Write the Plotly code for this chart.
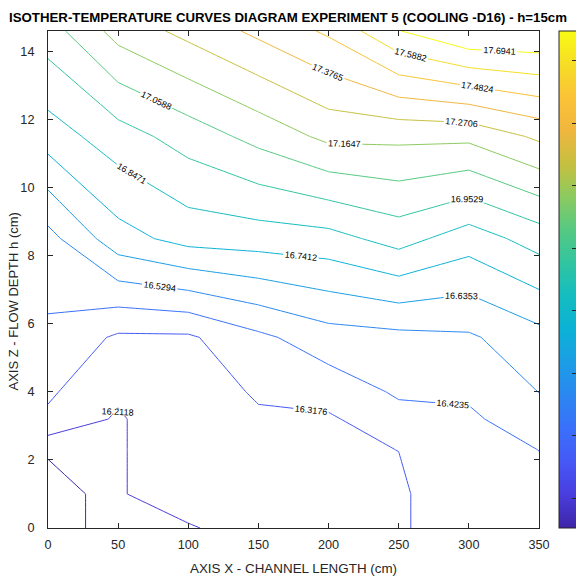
import plotly.graph_objects as go

x_cm = [0, 50, 100, 150, 200, 250, 300, 350]
y_cm = [0, 1, 2.3, 3.2, 4.0, 5.6, 8.5, 11.5, 14.6]

# Temperature values (deg C) at each (y row, x column), estimated from the isotherms
t_y0    = [16.000, 16.1976, 16.196, 16.290, 16.300, 16.300, 16.4023, 16.400]
t_y1    = [16.000, 16.1976, 16.307, 16.295, 16.300, 16.300, 16.4023, 16.410]
t_y2_3  = [16.135, 16.1976, 16.307, 16.298, 16.301, 16.3185, 16.404, 16.424]
t_y3_2  = [16.299, 16.1976, 16.307, 16.300, 16.3024, 16.390, 16.407, 16.480]
t_y4    = [16.333, 16.232, 16.249, 16.3327, 16.3634, 16.437, 16.440, 16.531]
t_y5_6  = [16.402, 16.301, 16.302, 16.4005, 16.4834, 16.500, 16.515, 16.597]
t_y8_5  = [16.492, 16.700, 16.780, 16.7926, 16.8089, 16.889, 16.791, 16.894]
t_y11_5 = [16.793, 16.905, 16.9995, 17.093, 17.1905, 17.190, 17.190, 17.290]
t_y14_6 = [17.010, 17.205, 17.302, 17.401, 17.500, 17.690, 17.800, 17.800]

z = [t_y0, t_y1, t_y2_3, t_y3_2, t_y4, t_y5_6, t_y8_5, t_y11_5, t_y14_6]

# Contour levels: 16 levels between 16.0 and 17.8
level_start = 16.0 + 1.8 / 17
level_end = 16.0 + 16 * 1.8 / 17
level_step = 1.8 / 17

x_ticks = [0, 50, 100, 150, 200, 250, 300, 350]
y_ticks = [0, 2, 4, 6, 8, 10, 12, 14]
cbar_ticks = [16.2, 16.4, 16.6, 16.8, 17.0, 17.2, 17.4, 17.6]

parula = [
    [0.00, "#3e26a8"], [0.07, "#4a3ee0"], [0.13, "#4657f5"], [0.20, "#3a70fb"],
    [0.27, "#2a88f0"], [0.33, "#1d9ce6"], [0.40, "#0bb2d6"], [0.47, "#15bdbf"],
    [0.53, "#30c4a2"], [0.60, "#55c982"], [0.67, "#8fca5e"], [0.73, "#c4c040"],
    [0.80, "#f0b63e"], [0.87, "#fbc437"], [0.93, "#f6dc26"], [1.00, "#f9fb15"],
]

FONT = "Liberation Sans, Arial, Helvetica, sans-serif"
AX = "#262626"

fig = go.Figure()
fig.add_trace(go.Contour(
    x=x_cm, y=y_cm, z=z,
    colorscale=parula,
    showscale=False,
    line=dict(width=1.0, smoothing=0),
    contours=dict(start=level_start, end=level_end, size=level_step,
                  coloring="lines", showlabels=True,
                  labelfont=dict(family=FONT, size=9.0, color="black"),
                  labelformat=".4f"),
    hoverinfo="skip",
))
# colorbar carrier
fig.add_trace(go.Scatter(
    x=[None], y=[None], mode="markers", showlegend=False, hoverinfo="skip",
    marker=dict(color=[17.0], colorscale=parula, cmin=level_start, cmax=level_end,
                showscale=True,
                colorbar=dict(x=1.0407, xanchor="left", xpad=0, ypad=0,
                              thickness=19, thicknessmode="pixels",
                              len=1, lenmode="fraction", y=0.5, yanchor="middle",
                              outlinewidth=1, outlinecolor=AX,
                              tickvals=cbar_ticks, ticks="inside", ticklen=6,
                              tickcolor=AX, showticklabels=False)),
))

axis_common = dict(showline=True, linecolor=AX, linewidth=1, mirror="ticks",
                   ticks="inside", ticklen=5, tickcolor=AX, showgrid=False,
                   zeroline=False, tickfont=dict(family=FONT, size=12.7, color=AX))
fig.update_xaxes(range=[0, 350], tickvals=x_ticks, ticklabelstandoff=5,
                 title=dict(text="AXIS X - CHANNEL LENGTH (cm)",
                            font=dict(family=FONT, size=13.4, color=AX), standoff=12),
                 **axis_common)
fig.update_yaxes(range=[0, 14.6], tickvals=y_ticks, ticklabelstandoff=10,
                 **axis_common)

fig.add_annotation(text="AXIS Z - FLOW DEPTH h (cm)", textangle=-90,
                   xref="paper", yref="paper", x=(12.5 - 48) / 491, y=(528 - 302) / 497,
                   xanchor="center", yanchor="middle", showarrow=False,
                   font=dict(family=FONT, size=13.0, color=AX))

fig.update_layout(
    width=576, height=579,
    margin=dict(l=48, r=37, t=31, b=51, autoexpand=False),
    paper_bgcolor="white", plot_bgcolor="white",
    showlegend=False,
    title=dict(text="<b>ISOTHER-TEMPERATURE CURVES DIAGRAM EXPERIMENT 5 (COOLING -D16) - h=15cm</b>",
               x=0.5, xanchor="center", y=1 - 17 / 579, yanchor="middle",
               yref="container", xref="container",
               font=dict(family=FONT, size=13.25, color="black")),
)

fig.write_html("out.html", config={"displayModeBar": False},
               post_script="document.body.style.margin='0px';document.body.style.overflow='hidden';")
